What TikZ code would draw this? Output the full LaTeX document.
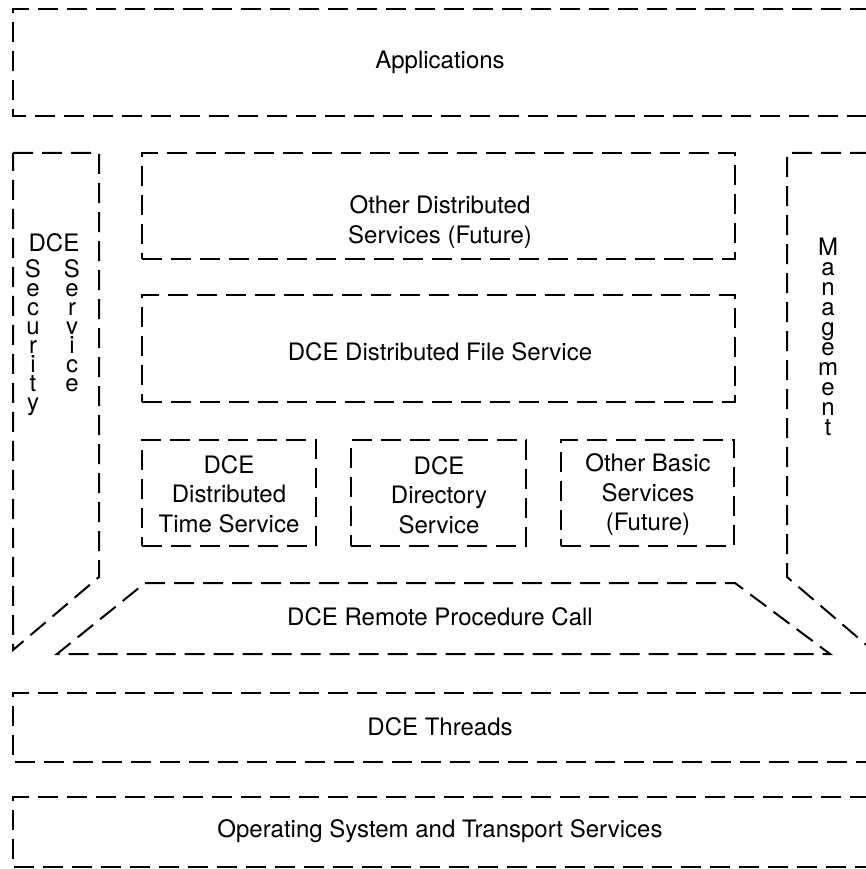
\documentclass[tikz,border=0pt]{standalone}
\usepackage{fontspec}
\setmainfont{TeX Gyre Heros}
\begin{document}
\begin{tikzpicture}[x=1pt,y=-1pt,
  dsh/.style={draw=black, line width=2pt, dash pattern=on 20pt off 9pt},
  box/.style={dsh, inner sep=0pt, minimum width=#1},
  txt/.style={inner sep=0pt, align=center, font=\fontsize{24}{29.5}\selectfont},
  vtxt/.style={inner sep=0pt, align=center, font=\fontsize{24}{#1}\selectfont}]
\useasboundingbox (0,0) rectangle (866,869);
\clip (0,0) rectangle (866,869);

% open boxes that run off the right edge
\draw[dsh] (870,9) -- (13,9) -- (13,116) -- (870,116);
\node[txt] (apps) at (440,62) {Applications};

\draw[dsh] (870,693) -- (13,693) -- (13,762) -- (870,762);
\node[txt] (threads) at (440,727) {DCE Threads};

\draw[dsh] (870,797) -- (13,797) -- (13,867) -- (870,867);
\node[txt] (os) at (440,831) {Operating System and Transport Services};

% security column
\draw[dsh] (13,153) -- (99,153) -- (99,577) -- (13,650) -- cycle;
\node[txt] (dce) at (54,243) {DCE};
\node[vtxt=19] (secw) at (33,338) {S\\e\\c\\u\\r\\i\\t\\y};
\node[vtxt=19] (serw) at (72,326) {S\\e\\r\\v\\i\\c\\e};

% management column
\draw[dsh] (870,153) -- (787,153) -- (787,577) -- (870,648);
\node[vtxt=20] (mgmt) at (828,337) {M\\a\\n\\a\\g\\e\\m\\e\\n\\t};

% inner boxes
\node[box=593pt, minimum height=106pt] (odsbox) at (438.5,206) {};
\node[txt] (ods) at (440,222) {Other Distributed\\Services (Future)};

\node[box=593pt, minimum height=107pt] (dfsbox) at (438.5,348.5) {};
\node[txt] (dfs) at (440,352) {DCE Distributed File Service};

\node[box=174pt, minimum height=106pt] (dtsbox) at (229,493) {};
\node[txt] (dts) at (229,494) {DCE\\Distributed\\Time Service};

\node[box=175pt, minimum height=106pt] (dirbox) at (438.5,493) {};
\node[txt] (dir) at (439,495) {DCE\\Directory\\Service};

\node[box=173pt, minimum height=106pt] (obsbox) at (647.5,493) {};
\node[txt] (obs) at (648,495) {Other Basic\\Services\\(Future)};

% RPC trapezoid
\coordinate (r1) at (145,583);
\coordinate (r2) at (735,583);
\coordinate (r3) at (830,654);
\coordinate (r4) at (57,654);
\draw[dsh] (r1) -- (r2) -- (r3) -- (r4) -- cycle;
\node[txt] (rpc) at (440,617) {DCE Remote Procedure Call};
\end{tikzpicture}
\end{document}
